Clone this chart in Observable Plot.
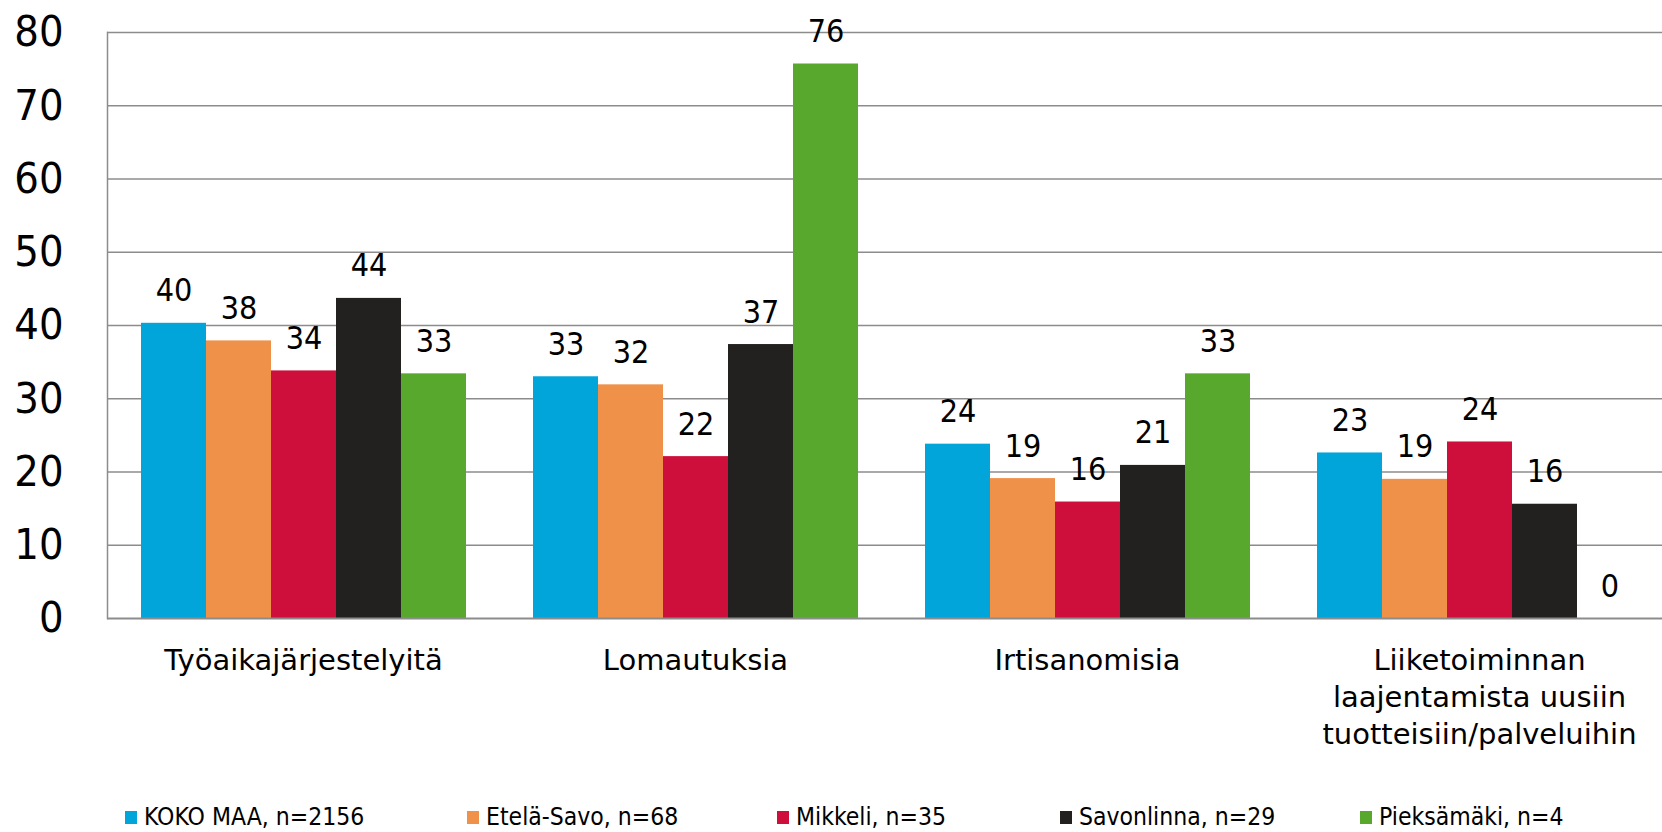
<!DOCTYPE html>
<html>
<head>
<meta charset="utf-8">
<script src="https://cdn.jsdelivr.net/npm/d3@7"></script>
<script src="https://cdn.jsdelivr.net/npm/@observablehq/plot@0.6"></script>
<style>
  body { margin: 0; background: #fff; overflow: hidden; }
  #wrap { width: 1662px; height: 832px; overflow: hidden; position: relative; background: #fff; }
  #chart svg { display: block; max-width: none; }
  #legend { position: relative; width: 1662px; height: 37px; font-family: "DejaVu Sans Condensed", "DejaVu Sans", sans-serif; font-stretch: condensed; font-size: 24.5px; color: #000; }
  #legend .item { position: absolute; top: 7px; display: flex; align-items: center; white-space: nowrap; line-height: 30px; }
  #legend .sw { width: 12px; height: 13px; margin-right: 7px; }
  .cond { font-stretch: condensed; }
</style>
</head>
<body>
<div id="wrap">
  <div id="chart"></div>
  <div id="legend"></div>
</div>
<script>
// ---- data ----
const categories = [
  "Työaikajärjestelyitä",
  "Lomautuksia",
  "Irtisanomisia",
  "Liiketoiminnan\nlaajentamista uusiin\ntuotteisiin/palveluihin"
];
const series = [
  "KOKO MAA, n=2156",
  "Etelä-Savo, n=68",
  "Mikkeli, n=35",
  "Savonlinna, n=29",
  "Pieksämäki, n=4"
];
const kokoMaa    = [40.3, 33.0, 23.8, 22.6];
const etelaSavo  = [37.9, 31.9, 19.1, 19.0];
const mikkeli    = [33.8, 22.1, 15.9, 24.1];
const savonlinna = [43.7, 37.4, 20.9, 15.6];
const pieksamaki = [33.4, 75.7, 33.4, 0];
const colors = ["#02a5d9", "#f0914a", "#ce0f3c", "#23211f", "#58a82e"];
const yTicks = [0, 10, 20, 30, 40, 50, 60, 70, 80];
const legendLeft = [125, 467, 777, 1060, 1360];

const seriesValues = [kokoMaa, etelaSavo, mikkeli, savonlinna, pieksamaki];
const data = [];
categories.forEach((c, i) => {
  series.forEach((s, j) => {
    data.push({category: c, series: s, value: seriesValues[j][i]});
  });
});

const numFont = "'DejaVu Sans Condensed', 'DejaVu Sans', sans-serif";
const catFont = "'DejaVu Sans', Verdana, sans-serif";

const plot = Plot.plot({
  width: 1675,
  height: 795,
  marginTop: 32,
  marginBottom: 177,
  marginLeft: 107,
  marginRight: 0,
  style: {fontFamily: numFont, background: "#fff", overflow: "visible", maxWidth: "none"},
  fx: {domain: categories, padding: 0, axis: null},
  x: {domain: series, paddingInner: 0, paddingOuter: 0.5, axis: null},
  y: {domain: [0, 80], axis: null},
  color: {domain: series, range: colors},
  marks: [
    Plot.ruleY(yTicks.filter(d => d > 0), {stroke: "#8c8c8c", strokeWidth: 1.5}),
    Plot.barY(data, {fx: "category", x: "series", y1: 0, y2: "value", fill: "series"}),
    Plot.ruleY([0], {stroke: "#8c8c8c", strokeWidth: 2}),
    Plot.frame({anchor: "left", facetAnchor: "left", stroke: "#8c8c8c", strokeWidth: 1.5}),
    Plot.text(data, {
      fx: "category", x: "series", y: "value",
      text: d => d3.format(".0f")(d.value),
      lineAnchor: "bottom", dy: -22,
      fontSize: 32, fontFamily: numFont, fill: "#000", className: "cond"
    }),
    Plot.text(categories, {
      fx: d => d, text: d => d,
      frameAnchor: "bottom", lineAnchor: "top", dy: 25,
      fontSize: 29, lineHeight: 1.28, fontFamily: catFont, fill: "#000"
    }),
    Plot.axisY(yTicks, {
      anchor: "left", tickSize: 0, tickPadding: 44,
      fontSize: 43, fontFamily: numFont, fill: "#000", label: null, className: "cond"
    })
  ]
});
document.getElementById("chart").appendChild(plot);

// ---- legend ----
const legend = document.getElementById("legend");
series.forEach((s, i) => {
  const item = document.createElement("div");
  item.className = "item";
  item.style.left = legendLeft[i] + "px";
  const sw = document.createElement("span");
  sw.className = "sw";
  sw.style.background = colors[i];
  const label = document.createElement("span");
  label.textContent = s;
  item.appendChild(sw);
  item.appendChild(label);
  legend.appendChild(item);
});
</script>
</body>
</html>
